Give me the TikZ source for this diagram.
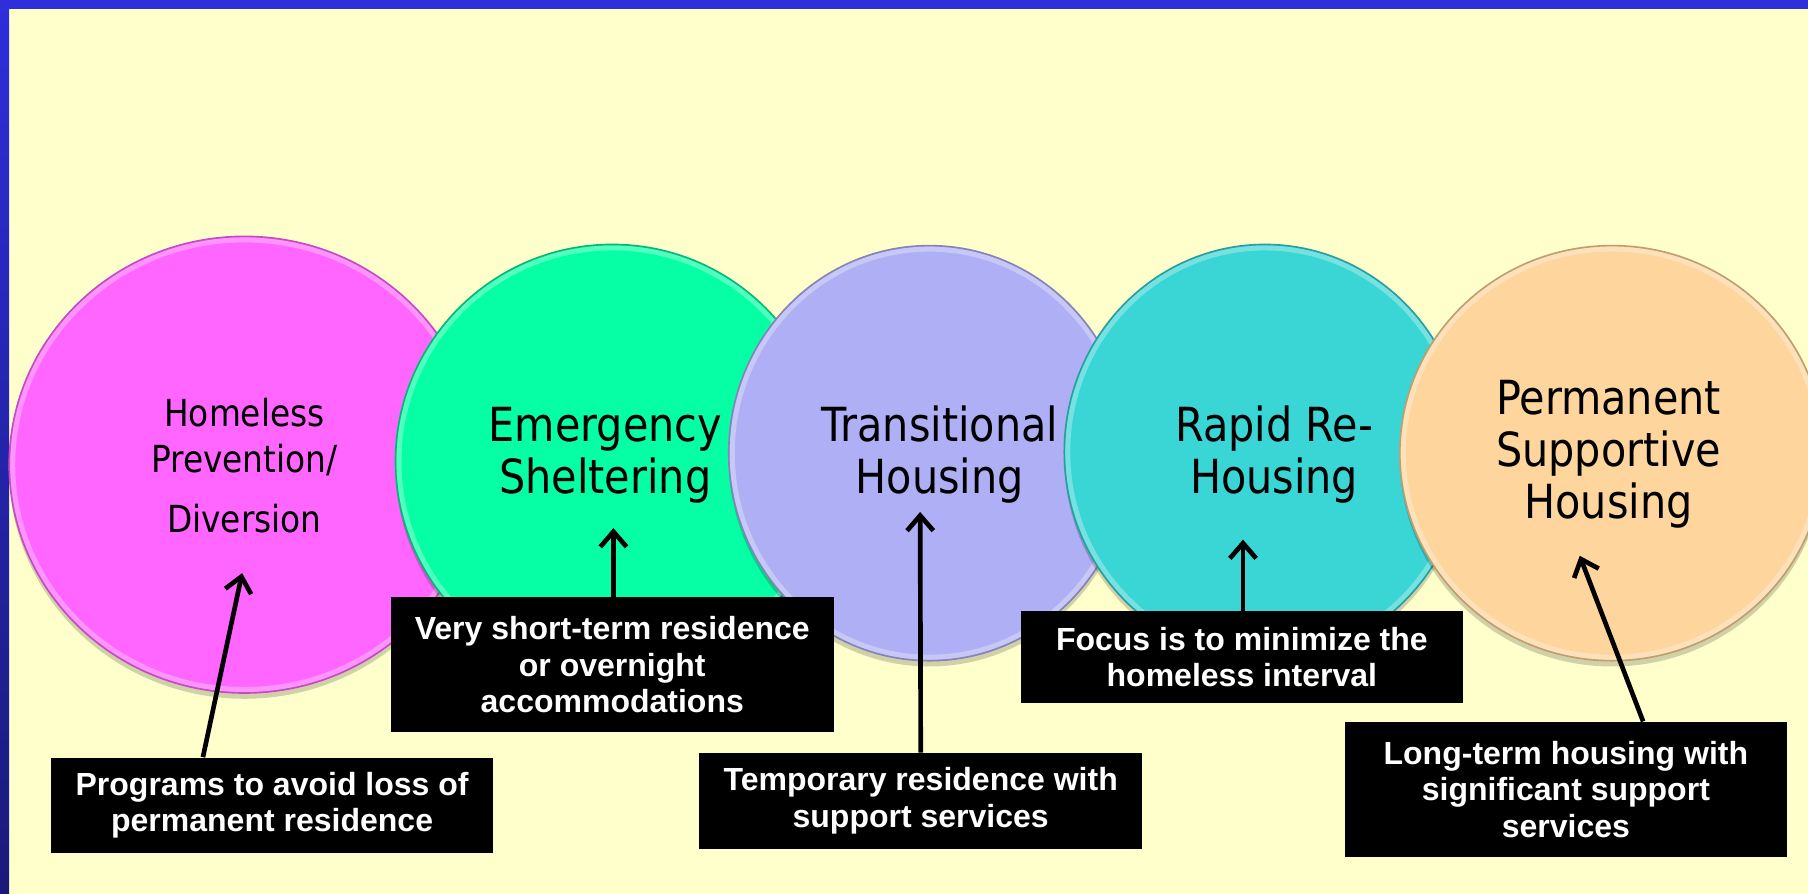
\documentclass[tikz,border=0pt]{standalone}
\usepackage{fontspec}
\setmainfont{Liberation Sans}
\newfontfamily\circfont[FakeStretch=0.88]{DejaVu Sans}
\usetikzlibrary{arrows.meta,calc}
\definecolor{bgy}{HTML}{FFFFCC}
\definecolor{bordb}{HTML}{2E2EDB}
\definecolor{bordd}{HTML}{1A1A7A}
\definecolor{pinkc}{HTML}{FF66FF}
\definecolor{pinkd}{HTML}{C24CC2}
\definecolor{greenc}{HTML}{06FFA4}
\definecolor{greend}{HTML}{05B87A}
\definecolor{purpc}{HTML}{AFAFF5}
\definecolor{purpd}{HTML}{8484BA}
\definecolor{tealc}{HTML}{3AD5D5}
\definecolor{teald}{HTML}{2A9E9E}
\definecolor{peachc}{HTML}{FDD59D}
\definecolor{peachd}{HTML}{C09E70}
\tikzset{
  circtext/.style={font=\circfont\fontsize{23.2}{25.8}\selectfont, align=center, text=black, inner sep=0},
  msgbox/.style={fill=black, text=white, font=\bfseries\fontsize{15.8}{18}\selectfont, align=center, minimum width=7.68cm, inner sep=0},
  arr/.style={line width=2.3pt, -{Straight Barb[length=7.5pt,width=13pt]}},
}
\newcommand{\bubble}[5]{%
  \fill[black,opacity=0.18] ($(#1)+(0,5)$) ellipse [x radius=#2, y radius=#3];
  \fill[#4] (#1) ellipse [x radius=#2, y radius=#3];
  \draw[white,opacity=0.3,line width=2.5pt] (#1) ellipse [x radius=#2-3, y radius=#3-3];
  \draw[#5,line width=0.8pt] (#1) ellipse [x radius=#2, y radius=#3];
}
\begin{document}
\begin{tikzpicture}[x=0.02cm,y=-0.02cm]
\useasboundingbox (0,0) rectangle (1568,775);
\fill[bgy] (0,0) rectangle (1568,775);
\shade[top color=bordb, bottom color=bordd] (0,0) rectangle (8,775);
\fill[bordb] (0,0) rectangle (1568,8);

% circles
\bubble{212,403}{204}{198}{pinkc}{pinkd}
\bubble{531,400}{188}{188}{greenc}{greend}
\bubble{806,393}{174}{180}{purpc}{purpd}
\bubble{1097,392}{174}{180}{tealc}{teald}
\bubble{1398,393}{184}{180}{peachc}{peachd}

% circle labels
\node[circtext, font=\circfont\fontsize{18.4}{22.8}\selectfont] (h1) at (212,404) {Homeless\\Prevention/\\[6.8pt]Diversion};
\node[circtext] (h2) at (525,395) {Emergency\\Sheltering};
\node[circtext] (h3) at (815,394) {Transitional\\Housing};
\node[circtext] (h4) at (1105,394) {Rapid Re-\\Housing};
\node[circtext] (h5) at (1395,394) {Permanent\\Supportive\\Housing};

% message boxes
\node[msgbox, minimum height=1.66cm] (b1) at (236,698.5) {Programs to avoid loss of\\permanent residence};
\node[msgbox, minimum height=2.34cm] (b2) at (531,576.5) {Very short-term residence\\or overnight\\accommodations};
\node[msgbox, minimum height=1.66cm] (b3) at (798.5,694.5) {Temporary residence with\\support services};
\node[msgbox, minimum height=1.60cm] (b4) at (1077,570) {Focus is to minimize the\\homeless interval};
\node[msgbox, minimum height=2.34cm] (b5) at (1358,684.5) {Long-term housing with\\significant support\\services};

% arrow tips
\coordinate (t1) at (210,497);
\coordinate (t2) at (532,458);
\coordinate (t3) at (798,444);
\coordinate (t4) at (1078,468);
\coordinate (t5) at (1370,482);

\draw[arr] ($(b1.north)+(-60,0)$) -- (t1);
\draw[arr] ($(b2.north)+(1,0)$) -- (t2);
\draw[arr] (b3.north) -- (t3);
\draw[arr] ($(b4.north)+(1,0)$) -- (t4);
\draw[arr] ($(b5.north)+(67,0)$) -- (t5);
\end{tikzpicture}
\end{document}
